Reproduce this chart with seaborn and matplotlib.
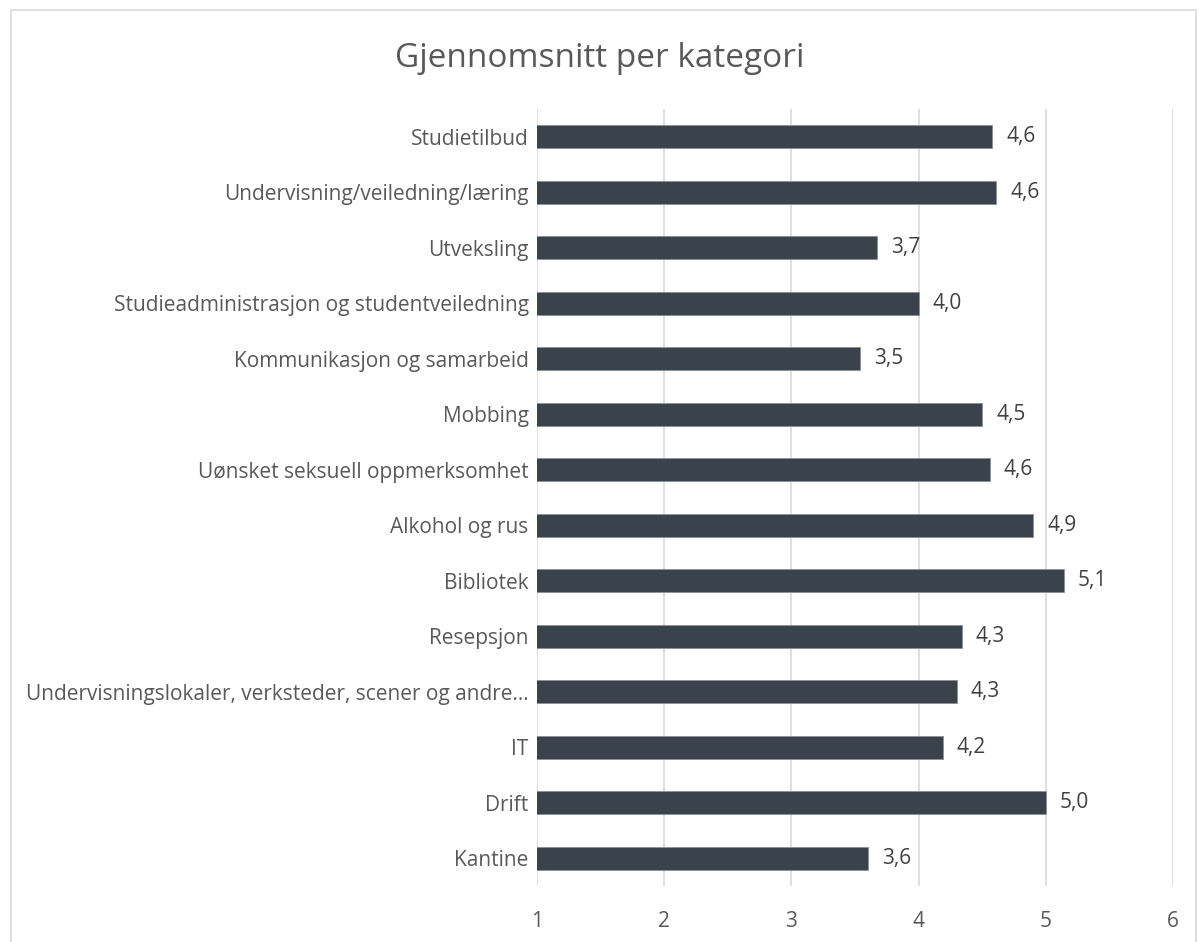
import matplotlib
matplotlib.use("Agg")
import matplotlib.pyplot as plt
import seaborn as sns
import pandas as pd
from matplotlib.patches import Rectangle

# --- DATA ---
CATEGORIES = [
    'Studietilbud',
    'Undervisning/veiledning/læring',
    'Utveksling',
    'Studieadministrasjon og studentveiledning',
    'Kommunikasjon og samarbeid',
    'Mobbing',
    'Uønsket seksuell oppmerksomhet',
    'Alkohol og rus',
    'Bibliotek',
    'Resepsjon',
    'Undervisningslokaler, verksteder, scener og andre…',
    'IT',
    'Drift',
    'Kantine',
]
MEANS = [4.58, 4.61, 3.67, 4.00, 3.54, 4.50, 4.56, 4.90, 5.14, 4.34, 4.30, 4.19, 5.00, 3.60]
X_TICKS = [1, 2, 3, 4, 5, 6]

TITLE = 'Gjennomsnitt per kategori'
BAR_COLOR = '#3A434C'
TEXT_COLOR = '#595959'
GRID_COLOR = '#D9D9D9'

df = pd.DataFrame({'Kategori': CATEGORIES, 'Snitt': MEANS})

sns.set_theme(style="white")
plt.rcParams['font.family'] = ['Open Sans', 'DejaVu Sans']

fig = plt.figure(figsize=(12, 9.42), dpi=100)
ax = fig.add_axes([0.4475, 0.0594, 0.53, 0.8249])

sns.barplot(
    data=df, x='Snitt', y='Kategori', orient='h',
    color=BAR_COLOR, width=0.42, saturation=1,
    edgecolor='#8A9096', linewidth=0.6, ax=ax
)

ax.set_xlim(1, 6)
ax.set_xticks(X_TICKS)
ax.set_xticklabels([str(t) for t in X_TICKS])
ax.set_xlabel('')
ax.set_ylabel('')
ax.xaxis.grid(True, color=GRID_COLOR, linewidth=1.2)
ax.set_axisbelow(True)
for s in ax.spines.values():
    s.set_visible(False)
ax.tick_params(axis='both', length=0, colors=TEXT_COLOR, labelsize=15)
ax.tick_params(axis='y', pad=6)
ax.tick_params(axis='x', pad=18)

for i, v in enumerate(MEANS):
    ax.text(v + 0.11, i, f"{v:.1f}".replace('.', ','), va='center', ha='left',
            fontsize=15, color='#404040')

fig.text(0.5, 0.938, TITLE, ha='center', va='center', fontsize=24, color=TEXT_COLOR)

# light frame around chart area
fig.patches.append(Rectangle((0.009, -0.01), 0.988, 0.999, transform=fig.transFigure,
                             fill=False, edgecolor=GRID_COLOR, linewidth=1.2))

fig.savefig('out.png', dpi=100)
plt.close(fig)
